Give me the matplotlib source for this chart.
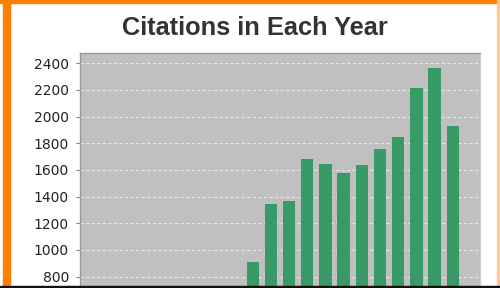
import matplotlib
matplotlib.use("Agg")
import matplotlib.pyplot as plt
from matplotlib.patches import Rectangle

title = "Citations in Each Year"
# visible bars (earlier years fall below the cropped bottom of the chart)
citations = [912, 1343, 1365, 1685, 1647, 1580, 1637, 1757, 1850, 2217, 2363, 1932]
yticks = [800, 1000, 1200, 1400, 1600, 1800, 2000, 2200, 2400]

plt.rcParams['font.family'] = ['Liberation Sans', 'DejaVu Sans']

fig = plt.figure(figsize=(5.0, 2.88), dpi=100)
fig.patch.set_facecolor('white')

ax = fig.add_axes([80/500, 0.0, 400/500, 235/288])
ax.set_facecolor('#c0c0c0')
x = list(range(len(citations)))
ax.bar(x, citations, width=0.68, color='#379a67', zorder=3)
ax.set_xlim(-9.5, 12.5)
ax.set_ylim(715, 2477)
ax.set_yticks(yticks)
ax.set_yticklabels([str(v) for v in yticks], fontsize=10, color='#222222',
                   family='DejaVu Sans')
ax.set_xticks([])
ax.yaxis.grid(True, color='#e4e4e4', linestyle=(0, (3, 2)), linewidth=0.8, zorder=1)
ax.tick_params(axis='y', length=3, width=0.8, color='#888888', pad=5)
for s in ['top', 'left']:
    ax.spines[s].set_color('#9a9a9a')
    ax.spines[s].set_linewidth(1.0)
ax.spines['right'].set_color('#d0d0d0')
ax.spines['bottom'].set_visible(False)

fig.text(0.51, 1 - 28/288, title, ha='center', va='center', fontsize=18.3,
         fontweight='bold', color='#333333')

# orange frame and bottom dark line
fig.patches.append(Rectangle((0, 1 - 3/288), 1, 3/288, transform=fig.transFigure,
                             color='#ff8000', zorder=10))
fig.patches.append(Rectangle((3/500, 0), 7/500, 1, transform=fig.transFigure,
                             color='#ff8000', zorder=10))
fig.patches.append(Rectangle((497/500, 0), 3/500, 1, transform=fig.transFigure,
                             color='#ffc890', zorder=10))
fig.patches.append(Rectangle((0, 0), 1, 2/288, transform=fig.transFigure,
                             color='#111111', zorder=11))

fig.savefig('out.png', dpi=100)
